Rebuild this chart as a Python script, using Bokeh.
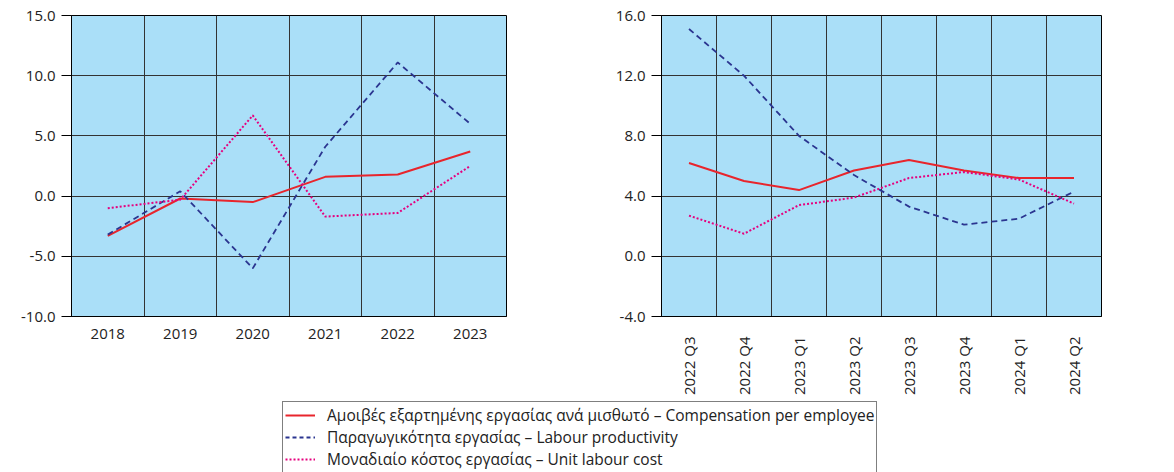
import math
from bokeh.plotting import figure
from bokeh.models import Range1d, FixedTicker, NumeralTickFormatter, Legend, LegendItem
from bokeh.layouts import column, row
from bokeh.embed import file_html
from bokeh.resources import INLINE

# ---- data ----
years = ["2018", "2019", "2020", "2021", "2022", "2023"]
comp_annual = [-3.3, -0.2, -0.5, 1.6, 1.8, 3.7]
prod_annual = [-3.2, 0.4, -6.0, 4.1, 11.1, 6.0]
ulc_annual = [-1.0, -0.3, 6.7, -1.7, -1.4, 2.5]

quarters = ["2022 Q3", "2022 Q4", "2023 Q1", "2023 Q2", "2023 Q3", "2023 Q4", "2024 Q1", "2024 Q2"]
comp_q = [6.2, 5.0, 4.4, 5.7, 6.4, 5.7, 5.2, 5.2]
prod_q = [15.1, 12.0, 8.0, 5.4, 3.3, 2.1, 2.5, 4.3]
ulc_q = [2.7, 1.5, 3.4, 3.9, 5.2, 5.6, 5.1, 3.5]

left_ticks = [-10, -5, 0, 5, 10, 15]
right_ticks = [-4, 0, 4, 8, 12, 16]

labels = [
    "Αμοιβές εξαρτημένης εργασίας ανά μισθωτό – Compensation per employee",
    "Παραγωγικότητα εργασίας – Labour productivity",
    "Μοναδιαίο κόστος εργασίας – Unit labour cost",
]

RED = "#e8252c"
BLUE = "#2b3590"
MAG = "#e6007e"
BG = "#aadff8"
FONT = "Open Sans"
TXT = "#222222"
TOP_H = 397


def make_chart(cats, comp, prod, ulc, yticks, width, left, right, rotate):
    n = len(cats)
    p = figure(width=width, height=TOP_H, output_backend="svg", toolbar_location=None,
               x_range=Range1d(-0.5, n - 0.5), y_range=Range1d(yticks[0], yticks[-1]),
               min_border_left=left, min_border_right=right, min_border_top=15,
               min_border_bottom=TOP_H - 15 - 302)
    p.background_fill_color = BG
    p.border_fill_color = "white"
    p.outline_line_color = "black"
    p.outline_line_width = 1
    xs = list(range(n))
    p.line(xs, comp, line_color=RED, line_width=2)
    p.line(xs, prod, line_color=BLUE, line_width=1.8, line_dash="6 4")
    p.line(xs, ulc, line_color=MAG, line_width=2, line_dash="2 2")

    p.xaxis.ticker = FixedTicker(ticks=xs)
    p.xaxis.major_label_overrides = {i: c for i, c in enumerate(cats)}
    p.xaxis.major_tick_out = 0
    p.xaxis.major_tick_in = 0
    p.xaxis.minor_tick_out = 0
    p.xaxis.minor_tick_in = 0
    p.xaxis.axis_line_color = "black"
    p.xaxis.major_label_text_font = FONT
    p.xaxis.major_label_text_font_size = "15px"
    p.xaxis.major_label_text_color = TXT
    if rotate:
        p.xaxis.major_label_orientation = math.pi / 2
        p.xaxis.major_label_standoff = 20
    else:
        p.xaxis.major_label_standoff = 12

    p.yaxis.ticker = FixedTicker(ticks=yticks)
    p.yaxis.formatter = NumeralTickFormatter(format="0.0")
    p.yaxis.major_tick_out = 10
    p.yaxis.major_tick_in = 0
    p.yaxis.minor_tick_out = 0
    p.yaxis.minor_tick_in = 0
    p.yaxis.major_tick_line_color = "black"
    p.yaxis.axis_line_color = "black"
    p.yaxis.major_label_standoff = 6
    p.yaxis.major_label_text_font = FONT
    p.yaxis.major_label_text_font_size = "15px"
    p.yaxis.major_label_text_color = TXT

    p.xgrid.ticker = FixedTicker(ticks=[i + 0.5 for i in range(n - 1)])
    p.xgrid.grid_line_color = "#333333"
    p.xgrid.grid_line_width = 1
    p.ygrid.grid_line_color = "#333333"
    p.ygrid.grid_line_width = 1
    return p


p1 = make_chart(years, comp_annual, prod_annual, ulc_annual, left_ticks, 590, 71, 84, False)
p2 = make_chart(quarters, comp_q, prod_q, ulc_q, right_ticks, 541, 71, 30, True)

nan = float("nan")
p3 = figure(width=1174, height=472 - TOP_H, output_backend="svg", toolbar_location=None,
            x_range=Range1d(0, 1), y_range=Range1d(0, 1),
            x_axis_location=None, y_axis_location=None,
            min_border_left=282, min_border_top=4, min_border_right=0, min_border_bottom=0)
p3.outline_line_color = None
p3.grid.visible = False
r1 = p3.line([nan], [nan], line_color=RED, line_width=2)
r2 = p3.line([nan], [nan], line_color=BLUE, line_width=1.8, line_dash="4 3")
r3 = p3.line([nan], [nan], line_color=MAG, line_width=2, line_dash="2 2")
legend = Legend(items=[LegendItem(label=labels[0], renderers=[r1]),
                       LegendItem(label=labels[1], renderers=[r2]),
                       LegendItem(label=labels[2], renderers=[r3])],
                location="top_left", margin=0, padding=2, spacing=0,
                glyph_width=30, glyph_height=16, label_height=16, label_standoff=12,
                border_line_color="black", border_line_width=1,
                background_fill_color="white", background_fill_alpha=1,
                label_text_font=FONT, label_text_font_size="15.5px",
                label_text_color=TXT)
p3.add_layout(legend)

layout = column(row(p1, p2), p3)

open("out.html", "w").write(file_html(layout, INLINE))
